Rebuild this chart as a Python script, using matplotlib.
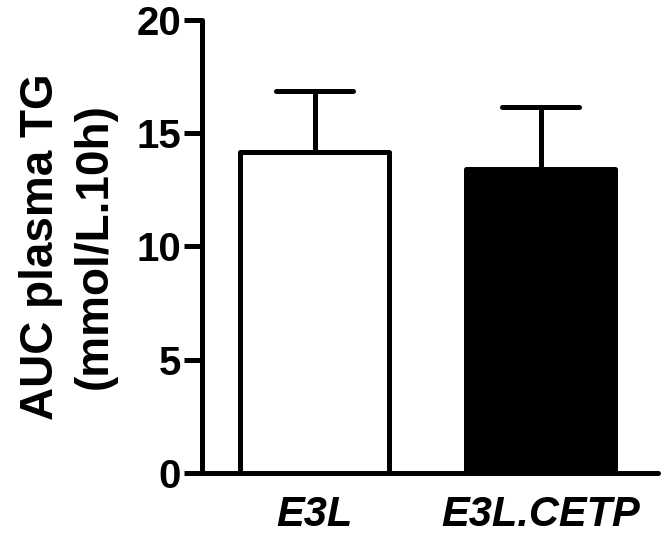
import matplotlib.pyplot as plt

plt.rcParams['font.family'] = ['Liberation Sans', 'DejaVu Sans']
plt.rcParams['font.weight'] = 'bold'

groups = ["E3L", "E3L.CETP"]
means = [14.17, 13.43]
sems = [2.68, 2.72]
fills = ["white", "black"]

yticks = [0, 5, 10, 15, 20]

fig = plt.figure(figsize=(6.64, 5.36), dpi=100)
ax = fig.add_axes([0.304, 0.1175, 0.687, 0.8455])

lw = 3.6
x = list(range(len(groups)))

# upper error bars only
tops = [m + s for m, s in zip(means, sems)]
ax.vlines(x, means, tops, color="black", linewidth=lw, capstyle="round", zorder=1)
ax.hlines(tops, [i - 0.17 for i in x], [i + 0.17 for i in x], color="black",
          linewidth=lw, capstyle="round", zorder=1)

ax.bar(x, means, width=0.66, color=fills, edgecolor="black", linewidth=lw,
       joinstyle="round", zorder=2)

ax.set_xlim(-0.5, 1.52)
ax.set_ylim(0, 20)
ax.set_yticks(yticks)
ax.set_yticklabels([str(t) for t in yticks], fontsize=29, fontweight="bold")
ax.set_xticks(x)
ax.set_xticklabels(groups, fontsize=30, fontweight="bold", fontstyle="italic")

ax.tick_params(axis="y", length=13, width=lw, pad=2)
ax.tick_params(axis="x", length=0, pad=16)

for side in ["top", "right"]:
    ax.spines[side].set_visible(False)
for side in ["left", "bottom"]:
    ax.spines[side].set_linewidth(lw)
    ax.spines[side].set_capstyle("round")

ax.set_ylabel("AUC plasma TG\n(mmol/L.10h)", fontsize=33, fontweight="bold",
              linespacing=1.3, labelpad=14)

fig.savefig("out.png", dpi=100)
